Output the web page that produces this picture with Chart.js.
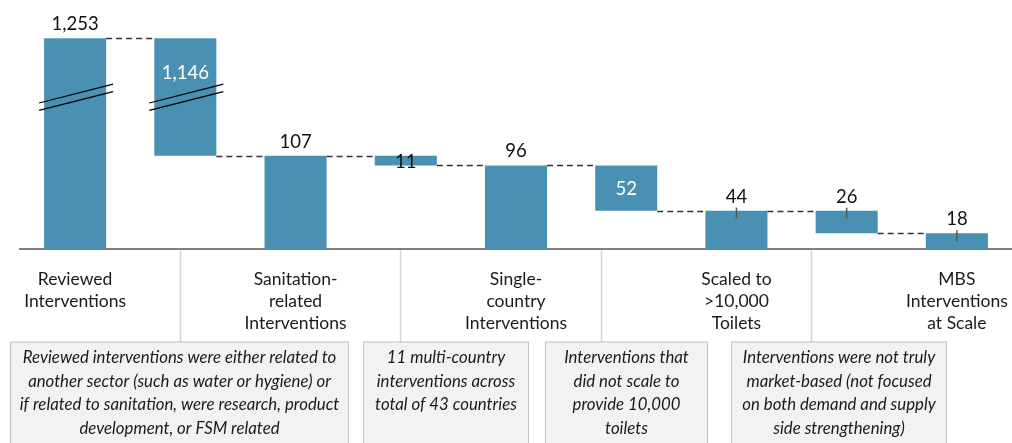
<!DOCTYPE html>
<html>
<head>
<meta charset="utf-8">
<script src="https://cdn.jsdelivr.net/npm/chart.js@4"></script>
<style>
html, body { margin: 0; padding: 0; background: #fff; }
#wrap { width: 1012px; height: 443px; }
</style>
</head>
<body>
<div id="wrap"><canvas id="chart"></canvas></div>
<script>
// --------------------------------
// Data
// --------------------------------

const categories = [
    ['Reviewed', 'Interventions'], '',
    ['Sanitation-', 'related', 'Interventions'], '',
    ['Single-', 'country', 'Interventions'], '',
    ['Scaled to', '>10,000', 'Toilets'], '',
    ['MBS', 'Interventions', 'at Scale']
];
const stepValues = [1253, 1146, 107, 11, 96, 52, 44, 26, 18];
const stepKinds = ['total', 'drop', 'total', 'drop', 'total', 'drop', 'total', 'drop', 'total'];
const valueLabels = ['1,253', '1,146', '107', '11', '96', '52', '44', '26', '18'];

// axis break: levels above breakFrom are drawn breakCut units lower
const breakFrom = 500;
const breakCut = 1011;
const breakMarkAt = 174;

const notes = [
    ['Reviewed interventions were either related to', 'another sector (such as water or hygiene) or',
     'if related to sanitation, were research, product', 'development, or FSM related'],
    ['11 multi-country', 'interventions across', 'total of 43 countries'],
    ['Interventions that', 'did not scale to', 'provide 10,000', 'toilets'],
    ['Interventions were not truly', 'market-based (not focused', 'on both demand and supply', 'side strengthening)']
];

// --------------------------------
// Layout / style
// --------------------------------

const barColor = '#4a90b2';
const fontFamily = 'Lato, "Open Sans", sans-serif';
// where each value label goes
const labelPlace = ['above', 'insideTop', 'above', 'inside', 'above', 'inside', 'above', 'above', 'above'];
const labelColor = ['#111', '#fff', '#111', '#111', '#111', '#fff', '#111', '#111', '#111'];
const labelTick = [false, false, false, false, false, false, true, true, true];
// in category units
const dividers = [0.95, 2.95, 4.77, 6.68];
const noteSpans = [[-0.59, 2.48], [2.61, 4.11], [4.26, 5.73], [5.95, 7.9]];

// --------------------------------
// Build floating ranges
// --------------------------------

const shown = v => v > breakFrom ? v - breakCut : v;

let level = 0;
const levels = [];
const ranges = [];
for (let i = 0; i < stepValues.length; i++) {
    if (stepKinds[i] === 'total') {
        level = stepValues[i];
        ranges.push([0, shown(level)]);
    } else {
        ranges.push([shown(level - stepValues[i]), shown(level)]);
        level = level - stepValues[i];
    }
    levels.push(level);
}

// --------------------------------
// Extras plugin
// --------------------------------

const waterfallExtras = {
    id: 'waterfallExtras',
    afterDatasetsDraw(chart) {
        const ctx = chart.ctx;
        const y = chart.scales.y;
        const bars = chart.getDatasetMeta(0).data;

        ctx.save();

        // dashed connectors
        ctx.strokeStyle = '#333';
        ctx.lineWidth = 1.3;
        ctx.setLineDash([6, 4]);
        for (let i = 0; i < bars.length - 1; i++) {
            const py = Math.round(y.getPixelForValue(shown(levels[i]))) + 0.5;
            ctx.beginPath();
            ctx.moveTo(bars[i].x + bars[i].width / 2, py);
            ctx.lineTo(bars[i + 1].x - bars[i + 1].width / 2, py);
            ctx.stroke();
        }
        ctx.setLineDash([]);

        // break marks on the bars that cross the break
        ctx.strokeStyle = '#000';
        ctx.lineWidth = 1.2;
        const yc = y.getPixelForValue(breakMarkAt);
        for (let i = 0; i < bars.length; i++) {
            if (ranges[i][1] <= breakMarkAt || ranges[i][0] >= breakMarkAt) continue;
            const x0 = bars[i].x - bars[i].width / 2 - 5;
            const x1 = bars[i].x + bars[i].width / 2 + 7;
            const slope = 0.254;
            [-3.7, 3.7].forEach(off => {
                ctx.beginPath();
                ctx.moveTo(x0, yc + off + slope * (bars[i].x - x0));
                ctx.lineTo(x1, yc + off - slope * (x1 - bars[i].x));
                ctx.stroke();
            });
        }

        // value labels
        ctx.font = '18.5px ' + fontFamily;
        ctx.textAlign = 'center';
        for (let i = 0; i < bars.length; i++) {
            const top = y.getPixelForValue(ranges[i][1]);
            const bottom = y.getPixelForValue(ranges[i][0]);
            ctx.fillStyle = labelColor[i];
            if (labelPlace[i] === 'above') {
                ctx.textBaseline = 'alphabetic';
                ctx.fillText(valueLabels[i], bars[i].x, top - 8);
            } else if (labelPlace[i] === 'insideTop') {
                ctx.textBaseline = 'middle';
                ctx.fillText(valueLabels[i], bars[i].x, top + 35);
            } else {
                ctx.textBaseline = 'middle';
                ctx.fillText(valueLabels[i], bars[i].x, (top + bottom) / 2 + 1);
            }
            if (labelTick[i]) {
                ctx.strokeStyle = '#555';
                ctx.lineWidth = 1.5;
                ctx.beginPath();
                ctx.moveTo(bars[i].x, top - 3);
                ctx.lineTo(bars[i].x, top + 8);
                ctx.stroke();
            }
        }
        ctx.restore();
    },
    afterDraw(chart) {
        const ctx = chart.ctx;
        const x = chart.scales.x;
        const base = chart.chartArea.bottom;
        const boxTop = base + 93;

        ctx.save();

        // label dividers
        ctx.strokeStyle = '#d4d4d4';
        ctx.lineWidth = 1.5;
        dividers.forEach(d => {
            const px = Math.round(x.getPixelForValue(d)) + 0.5;
            ctx.beginPath();
            ctx.moveTo(px, base + 1);
            ctx.lineTo(px, boxTop);
            ctx.stroke();
        });

        // note boxes
        ctx.font = 'italic 16.8px ' + fontFamily;
        ctx.textAlign = 'center';
        ctx.textBaseline = 'middle';
        for (let i = 0; i < notes.length; i++) {
            const left = Math.round(x.getPixelForValue(noteSpans[i][0])) + 0.5;
            const right = Math.round(x.getPixelForValue(noteSpans[i][1])) + 0.5;
            ctx.fillStyle = '#f2f2f2';
            ctx.fillRect(left, boxTop, right - left, chart.height - boxTop + 5);
            ctx.strokeStyle = '#c0c0c0';
            ctx.lineWidth = 1;
            ctx.strokeRect(left, boxTop, right - left, chart.height - boxTop + 5);
            ctx.fillStyle = '#1a1a1a';
            notes[i].forEach((line, j) => {
                ctx.fillText(line, (left + right) / 2, boxTop + 16 + j * 23.5);
            });
        }
        ctx.restore();
    }
};

// --------------------------------
// Chart
// --------------------------------

const waterfall = new Chart(document.getElementById('chart'), {
    type: 'bar',
    data: {
        labels: categories,
        datasets: [{
            data: ranges,
            backgroundColor: barColor,
            borderWidth: 0,
            borderSkipped: false,
            categoryPercentage: 1,
            barPercentage: 0.563
        }]
    },
    options: {
        responsive: true,
        maintainAspectRatio: false,
        animation: false,
        layout: {
            padding: { left: 20, right: 0, top: 0, bottom: 102 }
        },
        plugins: {
            legend: { display: false },
            tooltip: { enabled: false }
        },
        scales: {
            x: {
                grid: { display: false, drawTicks: false },
                border: { display: true, color: '#808080', width: 2 },
                ticks: {
                    autoSkip: false,
                    maxRotation: 0,
                    minRotation: 0,
                    padding: 19,
                    color: '#1a1a1a',
                    font: { family: fontFamily, size: 17.5, lineHeight: 1.27 }
                },
                afterFit: scale => {
                    scale.height = 92;
                    scale.paddingLeft = 0;
                    scale.paddingRight = 0;
                }
            },
            y: {
                display: false,
                min: 0,
                max: 286
            }
        }
    },
    plugins: [waterfallExtras]
});
</script>
</body>
</html>
